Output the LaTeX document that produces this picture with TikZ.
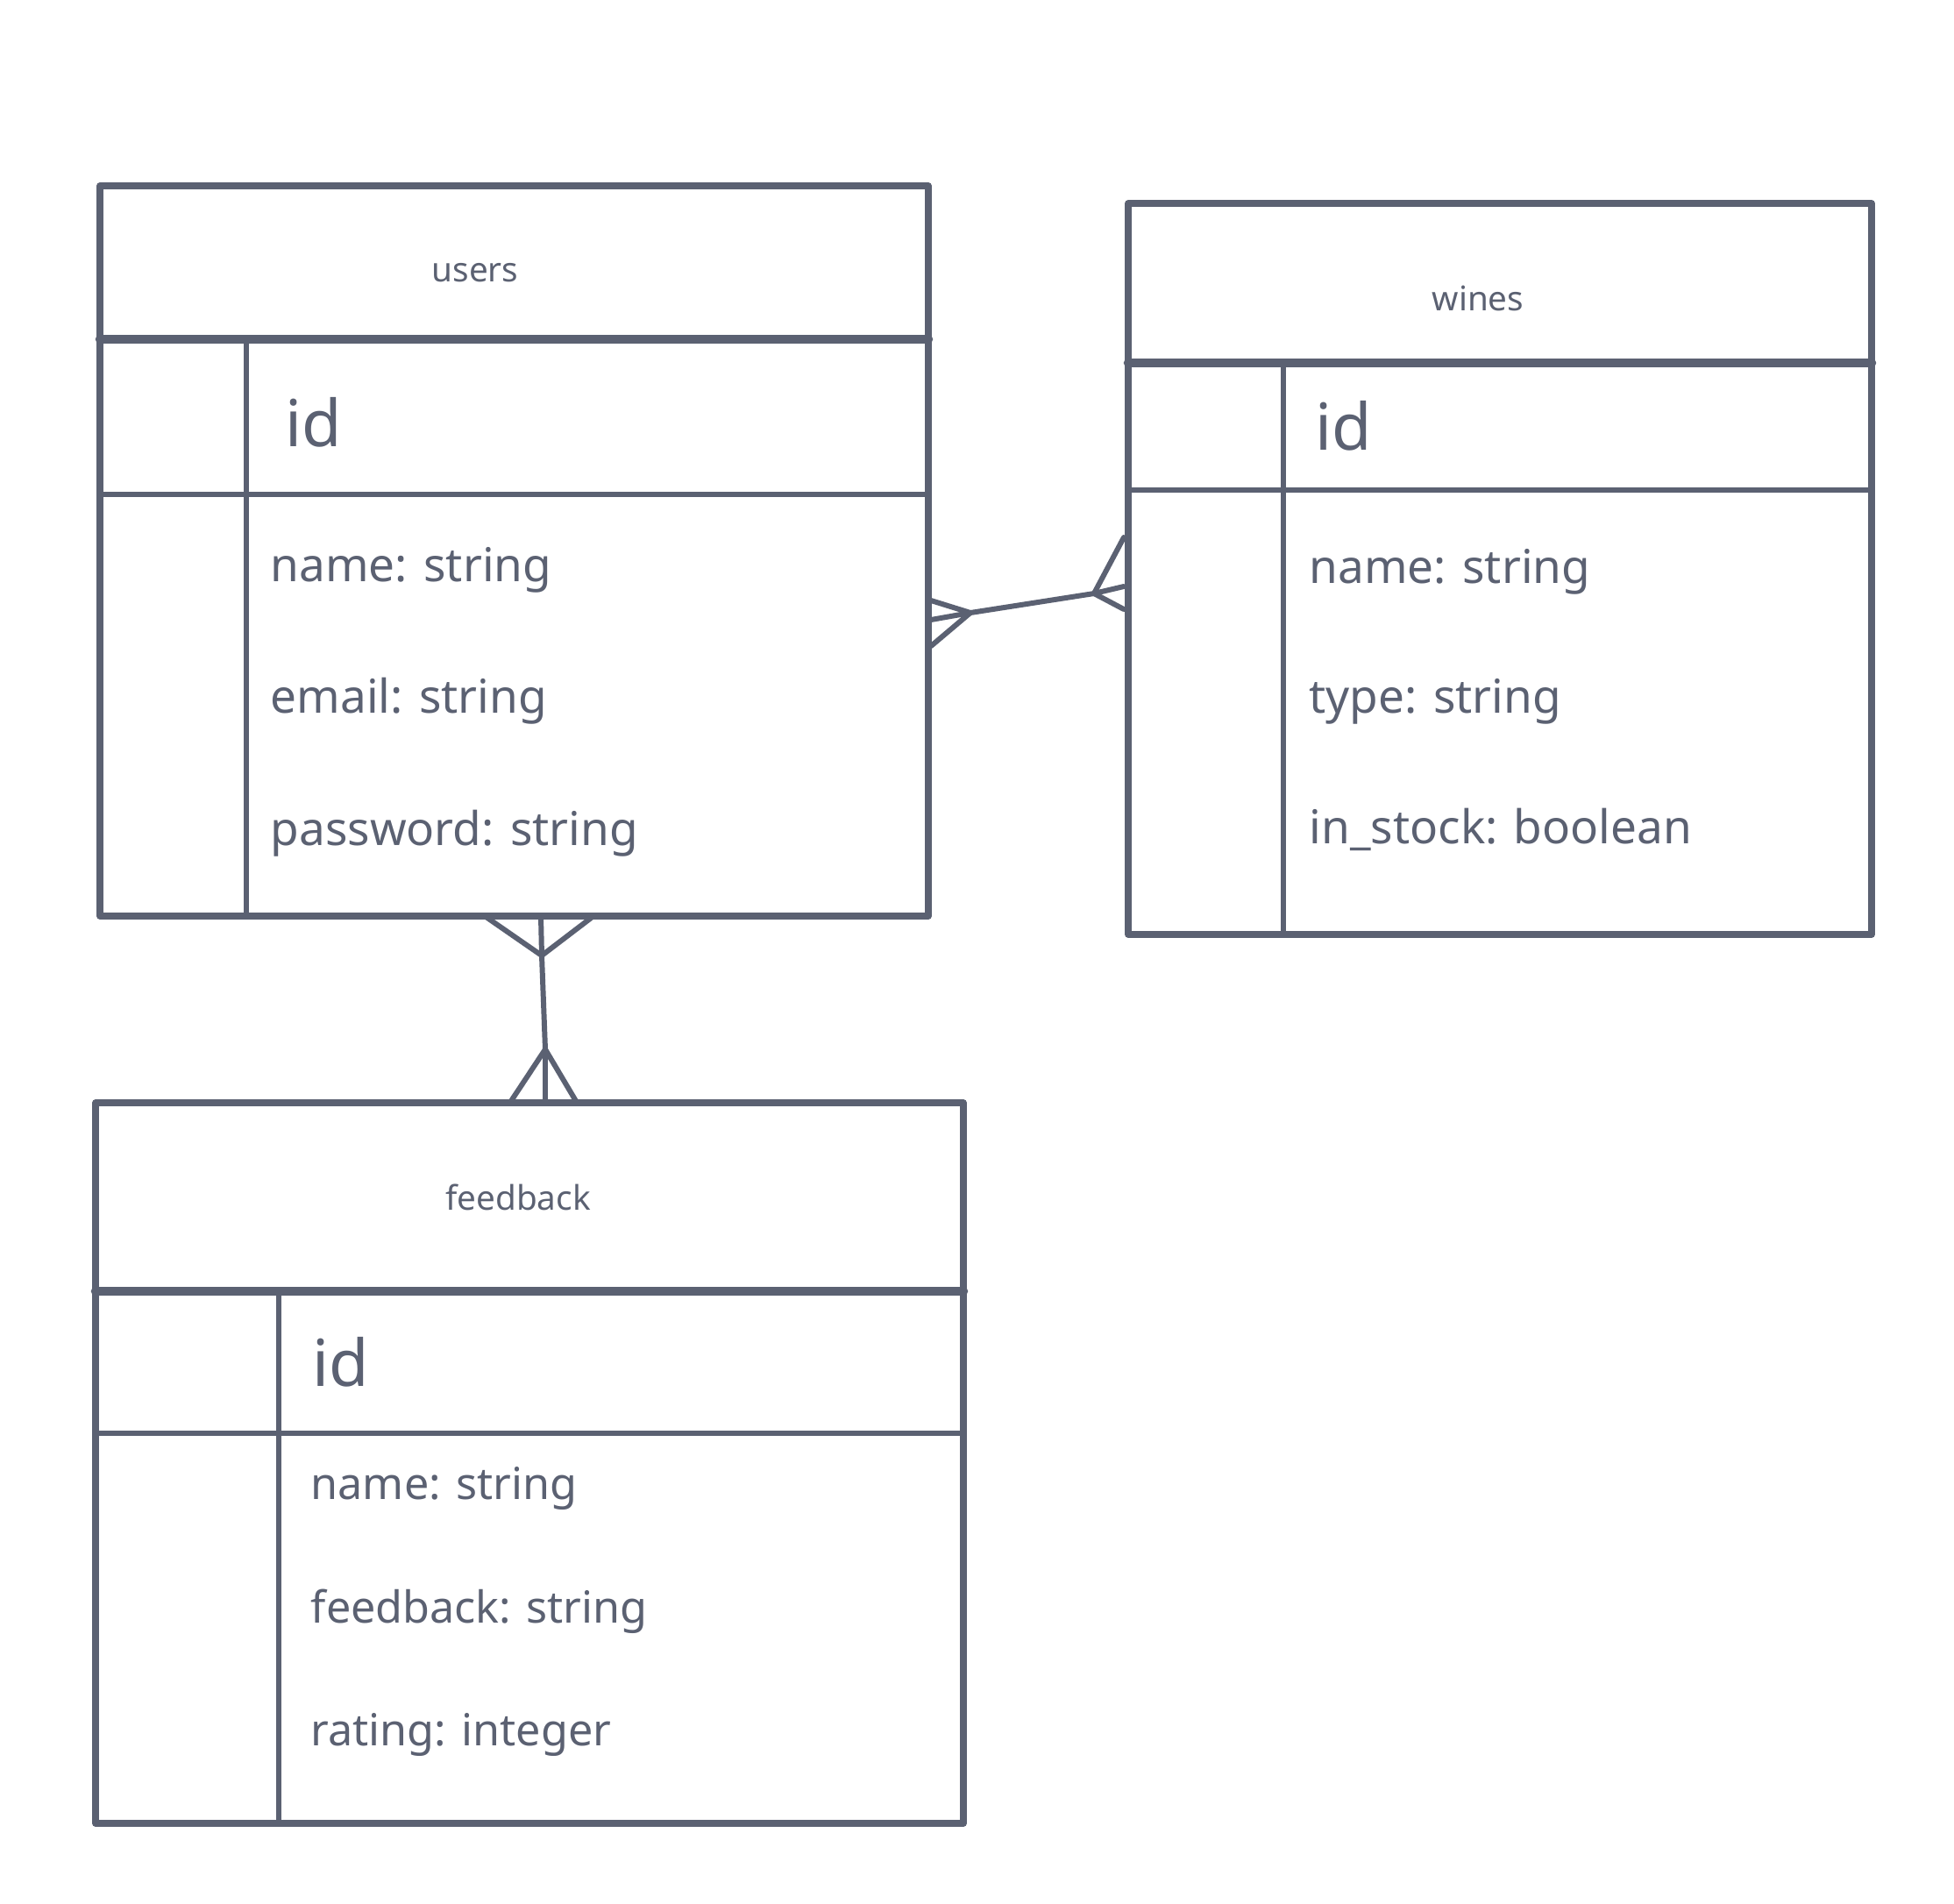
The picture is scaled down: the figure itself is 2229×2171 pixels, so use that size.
\documentclass[tikz,border=0pt]{standalone}
\usepackage{fontspec}
\setmainfont{Noto Sans}
\definecolor{ink}{RGB}{91,97,114}

\begin{document}
\begin{tikzpicture}[x=0.01cm, y=-0.01cm, line join=round, line cap=round]
    \tikzstyle{every node} = [text = ink, inner sep = 0pt];
    \tikzstyle{frame} = [draw = ink, line width = 2.1pt];
    \tikzstyle{rule} = [draw = ink, line width = 1.7pt];
    \tikzstyle{thickrule} = [draw = ink, line width = 3pt];
    \tikzstyle{title} = [font = \fontsize{11}{13}\selectfont];
    \tikzstyle{key} = [anchor = west, font = \fontsize{21}{25}\selectfont];
    \tikzstyle{field} = [anchor = west, font = \fontsize{15.1}{18}\selectfont];
    \tikzstyle{smallfield} = [anchor = west, font = \fontsize{14.3}{17}\selectfont];
    \useasboundingbox (0,0) rectangle (2229,2171);

    % users
    \draw[frame] (114,212) rectangle (1059,1045);
    \draw[thickrule] (114,387) -- (1059,387);
    \draw[rule] (114,564) -- (1059,564);
    \draw[rule] (281,387) -- (281,1045);
    \node[title] (users) at (542,311) {users};
    \node[key] (uid) at (325,482) {id};
    \node[field] (uname) at (308,650) {name: string};
    \node[field] (uemail) at (308,800) {email: string};
    \node[field] (upass) at (308,951) {password: string};

    % wines
    \draw[frame] (1287,232) rectangle (2135,1066);
    \draw[thickrule] (1287,414) -- (2135,414);
    \draw[rule] (1287,559) -- (2135,559);
    \draw[rule] (1464,414) -- (1464,1066);
    \node[title] (wines) at (1686,340) {wines};
    \node[key] (wid) at (1500,486) {id};
    \node[field] (wname) at (1493,652) {name: string};
    \node[field] (wtype) at (1493,800) {type: string};
    \node[field] (wstock) at (1493,946) {in\_stock: boolean};

    % feedback
    \draw[frame] (109,1258) rectangle (1099,2080);
    \draw[thickrule] (109,1473) -- (1099,1473);
    \draw[rule] (109,1635) -- (1099,1635);
    \draw[rule] (318,1473) -- (318,2080);
    \node[title] (feedback) at (591,1366) {feedback};
    \node[key] (fid) at (356,1554) {id};
    \node[smallfield] (fname) at (354,1698) {name: string};
    \node[smallfield] (ftext) at (354,1838) {feedback: string};
    \node[smallfield] (frate) at (354,1979) {rating: integer};

    % users -- wines
    \coordinate (uw) at (1107,699);
    \coordinate (wu) at (1248,677);
    \draw[rule] (uw) -- (wu);
    \draw[rule] (1062,685) -- (uw) -- (1062,737);
    \draw[rule] (1062,707) -- (uw);
    \draw[rule] (1282,613) -- (wu) -- (1282,695);
    \draw[rule] (1282,669) -- (wu);

    % users -- feedback
    \coordinate (uf) at (618,1090);
    \coordinate (fu) at (622,1197);
    \draw[rule] (uf) -- (fu);
    \draw[rule] (553,1045) -- (uf) -- (677,1045);
    \draw[rule] (617,1045) -- (uf);
    \draw[rule] (583,1256) -- (fu) -- (657,1256);
    \draw[rule] (622,1256) -- (fu);
\end{tikzpicture}
\end{document}
